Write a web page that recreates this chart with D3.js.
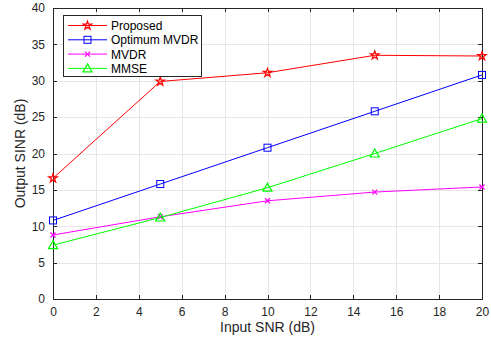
<!DOCTYPE html>
<html lang="en">
  <head>
    <meta charset="UTF-8" />
    <title>Output SINR vs Input SNR</title>
    <script src="https://d3js.org/d3.v7.min.js"></script>
    <style>
      body {
        margin: 0;
        background-color: #ffffff;
        font-family: "Liberation Sans", Arial, sans-serif;
      }
      .grid line {
        stroke: #e6e6e6;
        shape-rendering: crispEdges;
      }
      .axis path,
      .axis line {
        stroke: #262626;
        shape-rendering: crispEdges;
      }
      .axis text {
        fill: #262626;
        font-size: 12px;
        font-family: "Liberation Sans", Arial, sans-serif;
      }
    </style>
  </head>
  <body>
    <svg id="chart" width="491" height="343"></svg>

    <script>
      // Data
      const snr = [0, 5, 10, 15, 20];
      const proposed = [16.6, 29.9, 31.1, 33.5, 33.4];
      const optimumMvdr = [10.8, 15.8, 20.8, 25.8, 30.8];
      const mvdr = [8.8, 11.3, 13.5, 14.7, 15.4];
      const mmse = [7.4, 11.2, 15.3, 20.0, 24.8];

      const xTicks = [0, 2, 4, 6, 8, 10, 12, 14, 16, 18, 20];
      const yTicks = [0, 5, 10, 15, 20, 25, 30, 35, 40];

      const seriesNames = ["Proposed", "Optimum MVDR", "MVDR", "MMSE"];
      const seriesValues = [proposed, optimumMvdr, mvdr, mmse];
      const seriesColors = ["#ff0000", "#0000ff", "#ff00ff", "#00ff00"];
      const seriesMarkers = ["star", "square", "cross", "triangle"];

      const margin = { top: 8, right: 9, bottom: 44, left: 53 },
        width = 491 - margin.left - margin.right,
        height = 343 - margin.top - margin.bottom;

      const svg = d3
        .select("#chart")
        .append("g")
        .attr("transform", `translate(${margin.left},${margin.top})`);

      const x = d3.scaleLinear().domain([0, 20]).range([0, width]);
      const y = d3.scaleLinear().domain([0, 40]).range([height, 0]);

      // Grid
      const grid = svg.append("g").attr("class", "grid");
      grid
        .selectAll(".gx")
        .data(xTicks)
        .enter()
        .append("line")
        .attr("x1", (d) => Math.round(x(d)) + 0.5)
        .attr("x2", (d) => Math.round(x(d)) + 0.5)
        .attr("y1", 0)
        .attr("y2", height);
      grid
        .selectAll(".gy")
        .data(yTicks)
        .enter()
        .append("line")
        .attr("x1", 0)
        .attr("x2", width)
        .attr("y1", (d) => Math.round(y(d)) + 0.5)
        .attr("y2", (d) => Math.round(y(d)) + 0.5);

      // Axes (ticks inside, box on all sides)
      svg
        .append("g")
        .attr("class", "axis")
        .attr("transform", `translate(0,${height})`)
        .call(d3.axisBottom(x).tickValues(xTicks).tickSizeInner(-4).tickSizeOuter(0).tickPadding(8));
      svg
        .append("g")
        .attr("class", "axis")
        .call(d3.axisTop(x).tickValues(xTicks).tickSizeInner(-4).tickSizeOuter(0).tickFormat(""));
      svg
        .append("g")
        .attr("class", "axis")
        .call(d3.axisLeft(y).tickValues(yTicks).tickSizeInner(-4).tickSizeOuter(0).tickPadding(8));
      svg
        .append("g")
        .attr("class", "axis")
        .attr("transform", `translate(${width},0)`)
        .call(d3.axisRight(y).tickValues(yTicks).tickSizeInner(-4).tickSizeOuter(0).tickFormat(""));

      // Axis labels
      svg
        .append("text")
        .attr("text-anchor", "middle")
        .attr("x", width / 2)
        .attr("y", height + 33)
        .attr("fill", "#262626")
        .style("font-size", "14px")
        .text("Input SNR (dB)");
      svg
        .append("text")
        .attr("text-anchor", "middle")
        .attr("transform", `translate(${-28},${height / 2})rotate(-90)`)
        .attr("fill", "#262626")
        .style("font-size", "14px")
        .text("Output SINR (dB)");

      // Marker drawing
      function drawMarker(g, type, color) {
        if (type === "star") {
          g.append("path")
            .attr("d", d3.symbol(d3.symbolStar, 22)())
            .attr("fill", "none")
            .attr("stroke", color)
            .attr("stroke-width", 1.2);
        } else if (type === "square") {
          g.append("rect")
            .attr("x", -3.5)
            .attr("y", -3.5)
            .attr("width", 7)
            .attr("height", 7)
            .attr("fill", "none")
            .attr("stroke", color);
        } else if (type === "cross") {
          g.append("path")
            .attr("d", "M-2.5,-2.5L2.5,2.5M-2.5,2.5L2.5,-2.5")
            .attr("stroke", color)
            .attr("stroke-width", 1.2);
        } else if (type === "triangle") {
          g.append("path")
            .attr("d", "M0,-4.5L4.5,3.5L-4.5,3.5Z")
            .attr("fill", "none")
            .attr("stroke", color)
            .attr("stroke-width", 1.2);
        }
      }

      const line = d3
        .line()
        .x((d, i) => x(snr[i]))
        .y((d) => y(d));

      seriesValues.forEach((vals, k) => {
        svg
          .append("path")
          .datum(vals)
          .attr("fill", "none")
          .attr("stroke", seriesColors[k])
          .attr("stroke-width", 1)
          .attr("d", line);
        vals.forEach((v, i) => {
          const g = svg.append("g").attr("transform", `translate(${x(snr[i])},${y(v)})`);
          drawMarker(g, seriesMarkers[k], seriesColors[k]);
        });
      });

      // Legend
      const legend = svg.append("g").attr("transform", "translate(10,7)");
      legend
        .append("rect")
        .attr("x", 0.5)
        .attr("y", 0.5)
        .attr("width", 138)
        .attr("height", 61)
        .attr("fill", "#ffffff")
        .attr("stroke", "#262626");
      seriesNames.forEach((name, k) => {
        const cy = 10.5 + k * 14.3;
        legend
          .append("line")
          .attr("x1", 5)
          .attr("x2", 44)
          .attr("y1", cy)
          .attr("y2", cy)
          .attr("stroke", seriesColors[k]);
        const g = legend.append("g").attr("transform", `translate(24.5,${cy})`);
        drawMarker(g, seriesMarkers[k], seriesColors[k]);
        legend
          .append("text")
          .attr("x", 48)
          .attr("y", cy + 4.5)
          .attr("fill", "#000000")
          .style("font-size", "12px")
          .text(name);
      });
    </script>
  </body>
</html>
